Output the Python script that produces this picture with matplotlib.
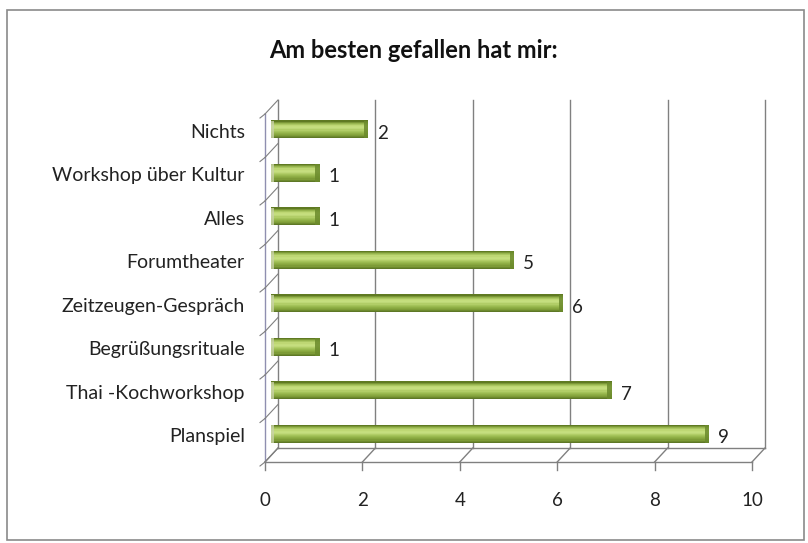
import matplotlib
matplotlib.use("Agg")
import matplotlib.pyplot as plt
import matplotlib.transforms as mtransforms
from matplotlib.patches import Rectangle
from matplotlib.colors import LinearSegmentedColormap
import numpy as np

categories = ["Planspiel", "Thai -Kochworkshop", "Begrüßungsrituale", "Zeitzeugen-Gespräch",
              "Forumtheater", "Alles", "Workshop über Kultur", "Nichts"]
values = [9, 7, 1, 6, 5, 1, 1, 2]
xticks = [0, 2, 4, 6, 8, 10]
title = "Am besten gefallen hat mir:"

plt.rcParams['font.family'] = ['Lato', 'DejaVu Sans']

W, H = 808, 543
fig = plt.figure(figsize=(W / 100, H / 100), dpi=100)
fig.patches.append(Rectangle((7 / W, 3 / H), 797 / W, 530 / H, transform=fig.transFigure,
                             fill=False, edgecolor='#8a8a8a', linewidth=1.2))

x0, x1 = 265, 752
ybot, ytop = 462, 114
ax = fig.add_axes([x0 / W, 1 - ybot / H, (x1 - x0) / W, (ybot - ytop) / H])
ax.set_xlim(0, 10)
ax.set_ylim(-0.5, len(categories) - 0.5)
ax.axis('off')

dx, dy = 0.13, 0.14  # depth offset in inches
back = ax.transData + mtransforms.ScaledTranslation(dx, dy, fig.dpi_scale_trans)
mid = ax.transData + mtransforms.ScaledTranslation(dx * 0.45, dy * 0.45, fig.dpi_scale_trans)

grid_c = '#808080'
ytop_d = len(categories) - 0.5
inv = fig.transFigure.inverted()
# back wall gridlines
for t in xticks:
    ax.plot([t, t], [-0.5, ytop_d], color=grid_c, lw=1.0, transform=back, clip_on=False)
ax.plot([0, 10], [-0.5, -0.5], color=grid_c, lw=1.0, transform=back, clip_on=False)
# floor diagonals / ticks
for t in xticks:
    a = inv.transform(ax.transData.transform((t, -0.5)))
    b = inv.transform(back.transform((t, -0.5)))
    fig.add_artist(plt.Line2D([a[0], b[0]], [a[1], b[1]], color=grid_c, lw=1.0))
    fig.add_artist(plt.Line2D([a[0], a[0]], [a[1], a[1] - 8 / H], color=grid_c, lw=1.0))
    ax.text(t, -0.5, str(t), transform=ax.transData + mtransforms.ScaledTranslation(0, -0.39, fig.dpi_scale_trans),
            ha='center', va='center', fontsize=13.5, color='#222222')
ax.plot([0, 10], [-0.5, -0.5], color=grid_c, lw=1.0, clip_on=False)
# left walls
ax.plot([0, 0], [-0.5, ytop_d], color='#8f8fb0', lw=1.0, clip_on=False)
for k in range(len(categories) + 1):
    yk = k - 0.5
    a = inv.transform(ax.transData.transform((0, yk)))
    b = inv.transform(back.transform((0, yk)))
    fig.add_artist(plt.Line2D([a[0], b[0]], [a[1], b[1]], color=grid_c, lw=0.8))
    fig.add_artist(plt.Line2D([a[0], a[0] - 5 / W], [a[1], a[1] - 4 / H], color=grid_c, lw=0.8))

# gradient bars
cmap = LinearSegmentedColormap.from_list('g', ['#5f7a22', '#9ab850', '#c3dc7a', '#c6de80',
                                               '#a9c75e', '#92b248', '#7f9e38', '#5e7826'])
N = 16
bh = 0.41
ypos = np.arange(len(categories))
for i in range(N):
    frac = i / (N - 1)
    off = bh / 2 - (i + 0.5) * bh / N
    ax.barh(ypos + off, values, height=bh / N + 0.002, color=cmap(frac), linewidth=0,
            transform=mid, clip_on=False, zorder=3)
capw = 0.09
ax.barh(ypos, [capw] * len(values), left=np.array(values) - capw, height=bh,
        color='#6b8a2c', linewidth=0, transform=mid, clip_on=False, zorder=4, alpha=0.85)
ax.barh(ypos, [0.06] * len(values), left=0, height=bh,
        color='#c9d3a8', linewidth=0, transform=mid, clip_on=False, zorder=4, alpha=0.8)

for yv, v in zip(ypos, values):
    ax.text(v, yv, str(v), transform=mid + mtransforms.ScaledTranslation(0.09, -0.04, fig.dpi_scale_trans),
            ha='left', va='center', fontsize=13.5, color='#222222', zorder=5)

for yv, c in zip(ypos, categories):
    ax.text(0, yv, c, transform=mid + mtransforms.ScaledTranslation(-0.26, -0.03, fig.dpi_scale_trans),
            ha='right', va='center', fontsize=14, color='#222222')

fig.text(413 / W, 1 - 50 / H, title, ha='center', va='center', fontsize=17,
         fontweight='bold', color='#111111')

fig.savefig("out.png", dpi=100)
